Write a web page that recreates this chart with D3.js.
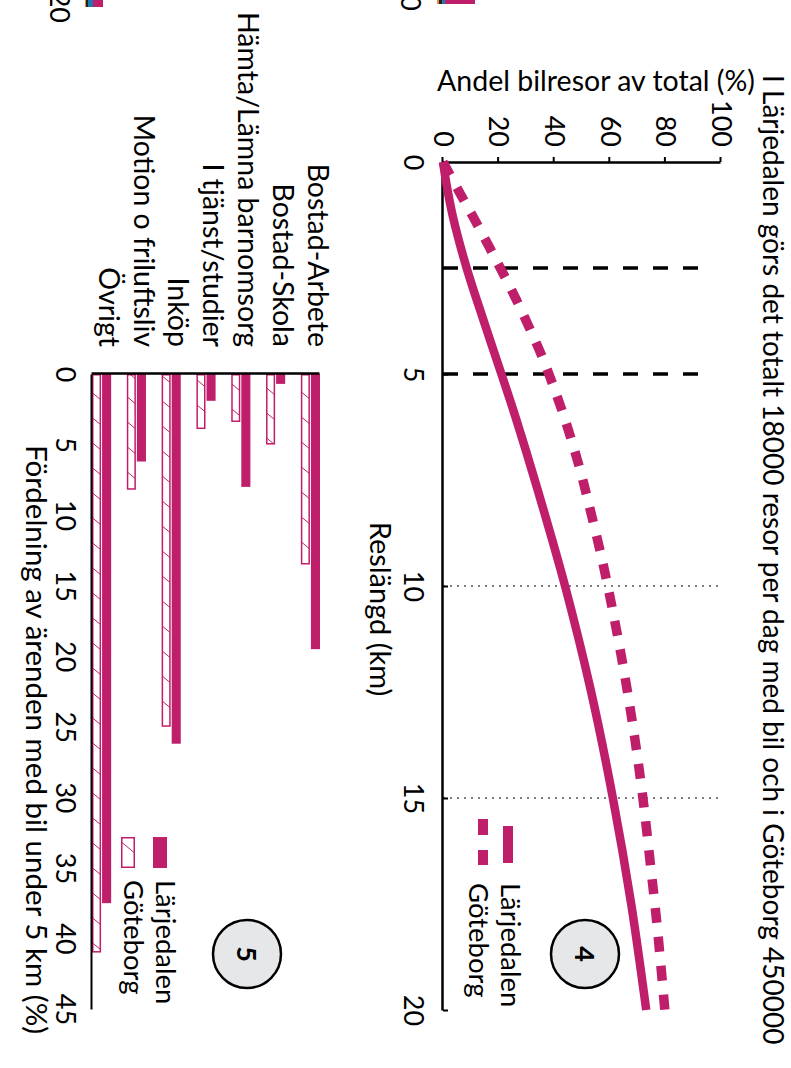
<!DOCTYPE html>
<html><head><meta charset="utf-8">
<script src="https://cdn.jsdelivr.net/npm/d3@7"></script>
<style>
body{margin:0;background:#fff}
svg{display:block}
text{font-family:Lato,"Open Sans",sans-serif;fill:#000}
</style>
</head><body>
<svg id="c" width="791" height="1068"></svg>
<script>
// ---------- data ----------
const title = "I Lärjedalen görs det totalt 18000 resor per dag med bil och i Göteborg 450000";
const seriesNames = ["Lärjedalen", "Göteborg"];
const kmTicks = [0, 5, 10, 15, 20];
const shareTicks = [0, 20, 40, 60, 80, 100];
const larjedalenKm = [0, 0.5, 1.3, 2.5, 3.7, 5, 6, 7.5, 10, 12.5, 15, 17.5, 20];
const larjedalenShare = [0, 1.2, 3.6, 8.5, 14.4, 21, 26.0, 33.0, 43.9, 53.3, 61.1, 67.7, 73.1];
const goteborgKm = [0, 0.7, 1.35, 2, 2.6, 3.25, 3.9, 4.6, 5.25, 5.9, 6.6, 7.3, 8, 9.4, 10.8, 12.2, 13.6, 15, 16.5, 18, 20];
const goteborgShare = [0, 5.8, 11.3, 16.6, 21.4, 26.4, 31.0, 35.7, 39.5, 43.0, 46.4, 49.5, 52.2, 57.3, 61.7, 65.6, 69.0, 71.9, 74.5, 77.0, 79.8];
const dashedKm = [2.5, 5];
const dottedKm = [10, 15];
const categories = ["Bostad-Arbete", "Bostad-Skola", "Hämta/Lämna barnomsorg", "I tjänst/studier", "Inköp", "Motion o friluftsliv", "Övrigt"];
const larjedalenPct = [19.5, 0.7, 8.0, 1.9, 26.2, 6.2, 37.5];
const goteborgPct = [13.5, 5.0, 3.4, 3.9, 25.0, 8.2, 41.0];
const pctTicks = [0, 5, 10, 15, 20, 25, 30, 35, 40, 45];
const chart4Title = "Andel bilresor av total (%)";
const chart4XTitle = "Reslängd (km)";
const chart5Title = "Fördelning av ärenden med bil under 5 km (%)";

// ---------- setup ----------
const MAG = "#BE1E6A";
const svg = d3.select("#c");
const defs = svg.append("defs");
const pat = defs.append("pattern").attr("id", "hatch")
  .attr("patternUnits", "userSpaceOnUse").attr("width", 25).attr("height", 30);
pat.append("rect").attr("width", 25).attr("height", 30).attr("fill", "#fff");
pat.append("path").attr("d", "M-2.5,33 L27.5,-3").attr("stroke", MAG).attr("stroke-width", 1).attr("fill", "none");

// the figure is drawn in its original orientation and turned a quarter turn clockwise
const root = svg.append("g").attr("transform", "translate(791,0) rotate(90)");
const fs = (sel, s) => sel.style("font-size", s + "px");

// remnants of the previous figure cut at the page edge
fs(root.append("text").attr("x", 11).attr("y", 390).attr("text-anchor", "end"), 27).text("0");
fs(root.append("text").attr("x", 23).attr("y", 741).attr("text-anchor", "end"), 27).text("20");
[[0,4,316,30,MAG],[0,4,346,3,"#1f77b4"],[0,4,349,3,"#222"],[0,4,352,2,"#f08a24"],
 [0,7,688,10,MAG],[0,7,698,5,"#1f77b4"],[0,7,703,2,"#222"],[0,7,705,1,"#f08a24"]]
 .forEach(r => root.append("rect").attr("x", r[0]).attr("width", r[1]).attr("y", r[2]).attr("height", r[3]).attr("fill", r[4]));

// title
fs(root.append("text").attr("x", 75).attr("y", 28), 28).text(title);

// ---------- chart 4 ----------
const x4 = d3.scaleLinear().domain([0, 20]).range([162, 1010]);
const y4 = d3.scaleLinear().domain([0, 100]).range([348, 70]);
const c4 = root.append("g");

c4.selectAll(".dl").data(dashedKm).join("line")
  .attr("x1", d => x4(d)).attr("x2", d => x4(d))
  .attr("y1", y4(0)).attr("y2", y4(93.2))
  .attr("stroke", "#000").attr("stroke-width", 3.5).attr("stroke-dasharray", "15,15");
c4.selectAll(".dt").data(dottedKm).join("line")
  .attr("x1", d => x4(d)).attr("x2", d => x4(d))
  .attr("y1", y4(0)).attr("y2", y4(100))
  .attr("stroke", "#000").attr("stroke-width", 1).attr("stroke-dasharray", "2,5");

const ax4y = c4.append("g").attr("transform", `translate(${x4(0)},0)`)
  .call(d3.axisLeft(y4).tickValues(shareTicks).tickSize(5).tickSizeOuter(0).tickPadding(10));
const ax4x = c4.append("g").attr("transform", `translate(0,${y4(0)})`)
  .call(d3.axisBottom(x4).tickValues(kmTicks).tickSize(-5).tickSizeOuter(0).tickPadding(20));
[ax4y, ax4x].forEach(a => {
  a.select(".domain").attr("stroke", "#000").attr("stroke-width", 2.5);
  a.selectAll(".tick line").attr("stroke", "#000").attr("stroke-width", 2);
  a.selectAll("text").style("font-size", "27px").attr("fill", "#000").style("font-family", "Lato");
});

const line4 = d3.line().x(d => x4(d[0])).y(d => y4(d[1])).curve(d3.curveCatmullRom.alpha(0.5));
const larjData = larjedalenKm.map((k, i) => [k, larjedalenShare[i]]);
const gbgData = goteborgKm.map((k, i) => [k, goteborgShare[i]]);
c4.append("path").attr("d", line4(gbgData)).attr("fill", "none")
  .attr("stroke", MAG).attr("stroke-width", 9.5).attr("stroke-dasharray", "15,14");
c4.append("path").attr("d", line4(larjData)).attr("fill", "none")
  .attr("stroke", MAG).attr("stroke-width", 8.5);

fs(c4.append("text").attr("transform", "translate(91,195) rotate(-90)").attr("text-anchor", "middle"), 28.5).text(chart4Title);
fs(c4.append("text").attr("x", 609).attr("y", 421).attr("text-anchor", "middle"), 29).text(chart4XTitle);

// legend 4
c4.append("line").attr("x1", 826).attr("x2", 863).attr("y1", 283).attr("y2", 283)
  .attr("stroke", MAG).attr("stroke-width", 10);
c4.append("line").attr("x1", 819).attr("x2", 865).attr("y1", 308).attr("y2", 308)
  .attr("stroke", MAG).attr("stroke-width", 10).attr("stroke-dasharray", "16,15");
fs(c4.append("text").attr("x", 883).attr("y", 290), 27.5).text(seriesNames[0]);
fs(c4.append("text").attr("x", 883).attr("y", 322), 27.5).text(seriesNames[1]);

// badge 4
c4.append("circle").attr("cx", 954).attr("cy", 206).attr("r", 34)
  .attr("fill", "#E6E7E8").attr("stroke", "#000").attr("stroke-width", 2.5);
fs(c4.append("text").attr("x", 954).attr("y", 206).attr("dy", "0.36em").attr("text-anchor", "middle"), 27)
  .style("font-weight", "bold").text("4");

// ---------- chart 5 ----------
const x5 = d3.scaleLinear().domain([0, 45]).range([374, 1009]);
const y5 = d3.scaleBand().domain(categories).range([471, 699]).paddingInner(0.45).paddingOuter(0);
const ys = d3.scaleBand().domain(seriesNames).range([0, y5.bandwidth()]);
const c5 = root.append("g");

const rows = categories.map((c, i) => ({ c, l: larjedalenPct[i], g: goteborgPct[i] }));
c5.selectAll(".bl").data(rows).join("rect")
  .attr("x", x5(0)).attr("y", d => y5(d.c) + ys(seriesNames[0]))
  .attr("width", d => x5(d.l) - x5(0)).attr("height", ys.bandwidth() - 0.5)
  .attr("fill", MAG);
c5.selectAll(".bg").data(rows).join("rect")
  .attr("x", x5(0) + 0.75).attr("y", d => y5(d.c) + ys(seriesNames[1]) + 1.25)
  .attr("width", d => x5(d.g) - x5(0) - 1.5).attr("height", ys.bandwidth() - 2)
  .attr("fill", "url(#hatch)").attr("stroke", MAG).attr("stroke-width", 1.5);

const ax5x = c5.append("g").attr("transform", `translate(0,${y5.range()[1]})`)
  .call(d3.axisBottom(x5).tickValues(pctTicks).tickSize(0).tickPadding(17));
const ax5y = c5.append("g").attr("transform", `translate(${x5(0) - 1},0)`)
  .call(d3.axisLeft(y5).tickSize(0).tickPadding(26));
ax5x.select(".domain").attr("stroke", "#000").attr("stroke-width", 2);
ax5y.select(".domain").attr("stroke", "#000").attr("stroke-width", 2.5);
ax5x.selectAll("text").style("font-size", "27px").attr("fill", "#000").style("font-family", "Lato");
ax5y.selectAll("text").style("font-size", "28.5px").attr("fill", "#000").style("font-family", "Lato").attr("dy", "0.1em");

fs(c5.append("text").attr("x", 445).attr("y", 765), 29.5).text(chart5Title);

// legend 5
c5.append("rect").attr("x", 837).attr("y", 624).attr("width", 31).attr("height", 14).attr("fill", MAG);
c5.append("rect").attr("x", 837.75).attr("y", 656.75).attr("width", 29.5).attr("height", 12.5)
  .attr("fill", "url(#hatch)").attr("stroke", MAG).attr("stroke-width", 1.5);
fs(c5.append("text").attr("x", 880).attr("y", 635), 27.5).text(seriesNames[0]);
fs(c5.append("text").attr("x", 880).attr("y", 667), 27.5).text(seriesNames[1]);

// badge 5
c5.append("circle").attr("cx", 954).attr("cy", 544).attr("r", 34)
  .attr("fill", "#E6E7E8").attr("stroke", "#000").attr("stroke-width", 2.5);
fs(c5.append("text").attr("x", 954).attr("y", 544).attr("dy", "0.36em").attr("text-anchor", "middle"), 27)
  .style("font-weight", "bold").text("5");
</script>
</body></html>
